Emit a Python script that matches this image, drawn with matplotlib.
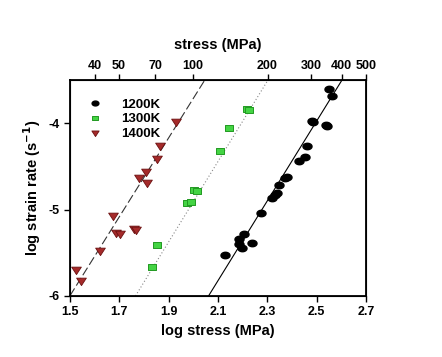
import numpy as np
import matplotlib
matplotlib.use("Agg")
import matplotlib.pyplot as plt
from matplotlib.path import Path

plt.rcParams['font.family'] = ['Liberation Sans', 'DejaVu Sans']
plt.rcParams['font.weight'] = 'bold'

# Data (log stress, log strain rate)
x1200 = [2.551, 2.563, 2.480, 2.486, 2.536, 2.543, 2.463, 2.453, 2.427, 2.381, 2.372,
         2.346, 2.340, 2.331, 2.320, 2.274, 2.205, 2.185, 2.185, 2.198, 2.237, 2.128]
y1200 = [-3.61, -3.69, -3.98, -3.99, -4.02, -4.03, -4.27, -4.39, -4.44, -4.62, -4.63,
         -4.71, -4.81, -4.83, -4.87, -5.04, -5.28, -5.34, -5.40, -5.44, -5.39, -5.53]
x1300 = [2.216, 2.226, 2.146, 2.110, 2.004, 2.016, 1.976, 1.989, 1.854, 1.831]
y1300 = [-3.84, -3.85, -4.06, -4.32, -4.77, -4.78, -4.92, -4.91, -5.41, -5.67]
x1400 = [1.932, 1.865, 1.854, 1.807, 1.781, 1.811, 1.673, 1.689, 1.705, 1.759, 1.770,
         1.622, 1.524, 1.547]
y1400 = [-3.99, -4.26, -4.41, -4.57, -4.63, -4.69, -5.07, -5.27, -5.28, -5.23, -5.24,
         -5.48, -5.70, -5.83]

# Fit lines: endpoints (x at y=-6, x at y=-3.5)
fit1200_x = [2.062, 2.603]
fit1300_x = [1.766, 2.303]
fit1400_x = [1.500, 2.047]
fit_y = [-6.0, -3.5]

labels = ['1200K', '1300K', '1400K']
xticks = [1.5, 1.7, 1.9, 2.1, 2.3, 2.5, 2.7]
yticks = [-6, -5, -4]
top_stress = [40, 50, 70, 100, 200, 300, 400, 500]

# horizontally stretched markers
t = np.linspace(0, 2 * np.pi, 40)
ellipse = Path(np.column_stack([1.4 * np.cos(t), np.sin(t)]), closed=True)
rect = Path([(-1.3, -1), (1.3, -1), (1.3, 1), (-1.3, 1), (-1.3, -1)], closed=True)
tri = Path([(-1.3, 0.9), (1.3, 0.9), (0, -1.1), (-1.3, 0.9)], closed=True)

fig = plt.figure(figsize=(4.42, 3.57), dpi=100)
ax = fig.add_axes([0.158, 0.171, 0.670, 0.605])

ax.plot(fit1200_x, fit_y, color='black', lw=0.8, ls='-')
ax.plot(fit1300_x, fit_y, color='#888888', lw=0.8, ls=(0, (1, 2)))
ax.plot(fit1400_x, fit_y, color='#333333', lw=0.8, ls=(0, (8, 3)))

ax.plot(x1200, y1200, ls='none', marker=ellipse, color='black', ms=6.5, mec='black', label=labels[0])
ax.plot(x1300, y1300, ls='none', marker=rect, color='#44d444', ms=6, mec='#229922', mew=0.7, label=labels[1])
ax.plot(x1400, y1400, ls='none', marker=tri, color='#a52a2a', ms=7, mec='#6b1010', mew=0.6, label=labels[2])

ax.set_xlim(1.5, 2.7)
ax.set_ylim(-6, -3.5)
ax.set_xticks(xticks)
ax.set_xticklabels([f'{t:.1f}' for t in xticks])
ax.set_yticks(yticks)
ax.set_yticklabels([str(t) for t in yticks])
ax.tick_params(direction='out', length=4, width=1, labelsize=9, right=False, top=False)
for s in ax.spines.values():
    s.set_linewidth(1.3)
ax.set_xlabel('log stress (MPa)', fontsize=10.5, fontweight='bold')
ax.set_ylabel('log strain rate (s$^{\\mathbf{-1}}$)', fontsize=10.5, fontweight='bold', labelpad=4)

ax2 = ax.twiny()
ax2.set_xlim(ax.get_xlim())
ax2.set_xticks(np.log10(top_stress))
ax2.set_xticklabels([str(s) for s in top_stress])
ax2.tick_params(direction='out', length=4, width=1, labelsize=9, pad=2)
ax2.set_xlabel('stress (MPa)', fontsize=10.5, fontweight='bold', labelpad=8)

leg = ax.legend(loc='upper left', frameon=False, fontsize=9.5, handletextpad=1.0,
                labelspacing=0.2, bbox_to_anchor=(0.0, 0.97), markerscale=0.75)

fig.savefig('out.png', dpi=100)
